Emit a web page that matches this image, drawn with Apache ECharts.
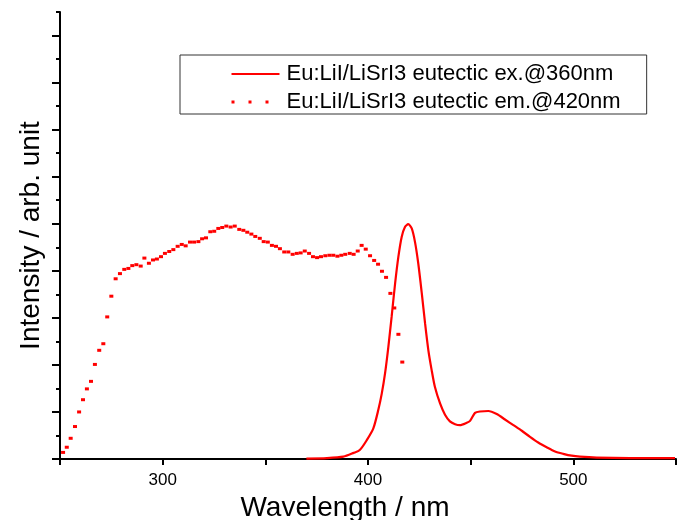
<!DOCTYPE html>
<html><head><meta charset="utf-8">
<script src="https://cdn.jsdelivr.net/npm/echarts@6/dist/echarts.min.js"></script>
<style>html,body{margin:0;padding:0;background:#fff}#c{width:681px;height:520px}</style>
</head><body><div id="c"></div>
<script>
// ---- data ----
const seriesNames = ['Eu:LiI/LiSrI3 eutectic ex.@360nm', 'Eu:LiI/LiSrI3 eutectic em.@420nm'];
const xTitle = 'Wavelength / nm';
const yTitle = 'Intensity / arb. unit';
const xTickLabels = [300, 400, 500];
const yMajorTicks = [0,1,2,3,4,5,6,7,8,9];
const yMinorTicks = [0.5,1.5,2.5,3.5,4.5,5.5,6.5,7.5,8.5,9.5];

// solid curve
const exX = [370,380,388,393,396,399.4,402.6,405.0,406.7,408.3,409.9,411.5,413.2,414.8,416.4,418.0,419.6,421.3,422.9,424.5,426.2,427.8,429.4,431.0,432.6,435.1,437.5,439.9,442.4,444.8,448.1,449.7,452.1,454.5,458.6,462.7,466.7,470.8,474.9,478.9,482.9,487.0,491.1,495.1,499.2,503.2,511.4,527.6,549.5];
const exY = [0.01,0.02,0.05,0.13,0.19,0.40,0.65,1.04,1.39,1.82,2.38,3.02,3.73,4.30,4.72,4.93,4.99,4.90,4.61,4.15,3.52,2.88,2.31,1.89,1.53,1.18,0.94,0.80,0.74,0.72,0.77,0.81,0.98,1.01,1.02,0.955,0.84,0.72,0.60,0.47,0.35,0.25,0.16,0.11,0.07,0.05,0.03,0.02,0.02];

// dotted curve
const emX = [251.5,253.3,255.2,257.3,259.3,261.2,263.1,265.1,267.0,269.1,271.1,273.0,275.0,277.1,279.2,281.3,283.3,285.2,287.2,289.3,291.1,293.3,295.3,297.2,299.2,301.1,303.2,305.2,307.3,309.3,311.2,313.3,315.3,317.4,319.2,321.1,323.2,325.1,327.1,329.0,331.0,333.1,335.1,
337.3,339.3,341.2,343.2,345.1,347.3,349.2,351.2,353.2,355.2,357.1,359.2,361.2,363.3,365.3,367.2,369.2,371.3,373.2,375.2,377.1,379.2,381.2,383.1,385.1,387.0,388.9,391.1,393.0,395.0,396.9,398.9,401.0,403.0,404.9,
406.8,408.8,410.9,412.8,414.8,416.7];
const emY = [0.14,0.25,0.44,0.69,1.00,1.26,1.49,1.65,2.01,2.31,2.45,3.02,3.46,3.83,3.94,4.03,4.05,4.11,4.13,4.10,4.27,4.16,4.23,4.25,4.30,4.37,4.41,4.45,4.52,4.56,4.53,4.61,4.61,4.62,4.68,4.70,4.83,4.84,4.90,4.92,4.95,4.93,4.95,
4.88,4.86,4.82,4.78,4.73,4.69,4.62,4.61,4.54,4.52,4.47,4.40,4.40,4.35,4.37,4.38,4.42,4.37,4.30,4.28,4.30,4.32,4.33,4.33,4.31,4.33,4.35,4.37,4.35,4.42,4.54,4.46,4.32,4.22,4.14,
3.99,3.86,3.52,3.21,2.65,2.06];

// ---- chart ----
const FONT = '"Liberation Sans", Arial, sans-serif';
const RED = '#ff0000';
const zip = (xs, ys) => xs.map((x, i) => [x, ys[i]]);

const chart = echarts.init(document.getElementById('c'), null, {renderer: 'canvas'});
const axisLineStyle = {color: '#000', width: 2};
chart.setOption({
  animation: false,
  backgroundColor: '#fff',
  textStyle: {fontFamily: FONT},
  grid: {left: 60, right: 5, top: 12, bottom: 61, containLabel: false, outerBoundsMode: 'none'},
  legend: {
    orient: 'vertical', left: 180, top: 55,
    padding: [8, 26, 1, 50], itemGap: 6, itemWidth: 48, itemHeight: 14,
    borderColor: '#333', borderWidth: 1, backgroundColor: '#fff',
    textStyle: {fontFamily: FONT, fontSize: 22, color: '#000', padding: [0, 0, 0, 2]},
    itemStyle: {opacity: 0},
    data: [
      {name: seriesNames[0], lineStyle: {color: RED, width: 2, type: 'solid', opacity: 1}},
      {name: seriesNames[1], lineStyle: {color: RED, width: 3, type: [3, 14], opacity: 1}}
    ]
  },
  xAxis: {
    type: 'value', min: 250, max: 550, interval: 50,
    name: xTitle, nameLocation: 'middle', nameGap: 30,
    nameTextStyle: {fontFamily: FONT, fontSize: 28, color: '#000', padding: [0, 46, 0, 0]},
    axisLine: {lineStyle: axisLineStyle},
    axisTick: {length: 6, lineStyle: axisLineStyle},
    axisLabel: {customValues: xTickLabels, fontFamily: FONT, fontSize: 17, color: '#000', margin: 13},
    splitLine: {show: false}
  },
  yAxis: [{
    type: 'value', min: 0, max: 9.5, interval: 0.5,
    name: yTitle, nameLocation: 'middle', nameGap: 15, nameRotate: 90,
    nameTextStyle: {fontFamily: FONT, fontSize: 28, color: '#000'},
    axisLine: {show: true, lineStyle: axisLineStyle},
    axisTick: {customValues: yMajorTicks, length: 8, lineStyle: axisLineStyle},
    axisLabel: {show: false},
    splitLine: {show: false}
  }, {
    type: 'value', min: 0, max: 9.5, interval: 0.5, position: 'left',
    axisLine: {show: false},
    axisTick: {show: true, customValues: yMinorTicks, length: 4, lineStyle: axisLineStyle},
    axisLabel: {show: false},
    splitLine: {show: false}
  }],
  series: [
    {
      name: seriesNames[0], type: 'line', yAxisIndex: 0,
      data: zip(exX, exY), symbol: 'none', smooth: 0.25,
      lineStyle: {color: RED, width: 2.2}, itemStyle: {color: RED}, z: 3
    },
    {
      name: seriesNames[1], type: 'line', yAxisIndex: 0,
      data: zip(emX, emY), showSymbol: true, symbol: 'rect', symbolSize: [4, 3],
      lineStyle: {color: RED, width: 0, opacity: 0}, itemStyle: {color: RED}, z: 2
    }
  ]
});
</script></body></html>
